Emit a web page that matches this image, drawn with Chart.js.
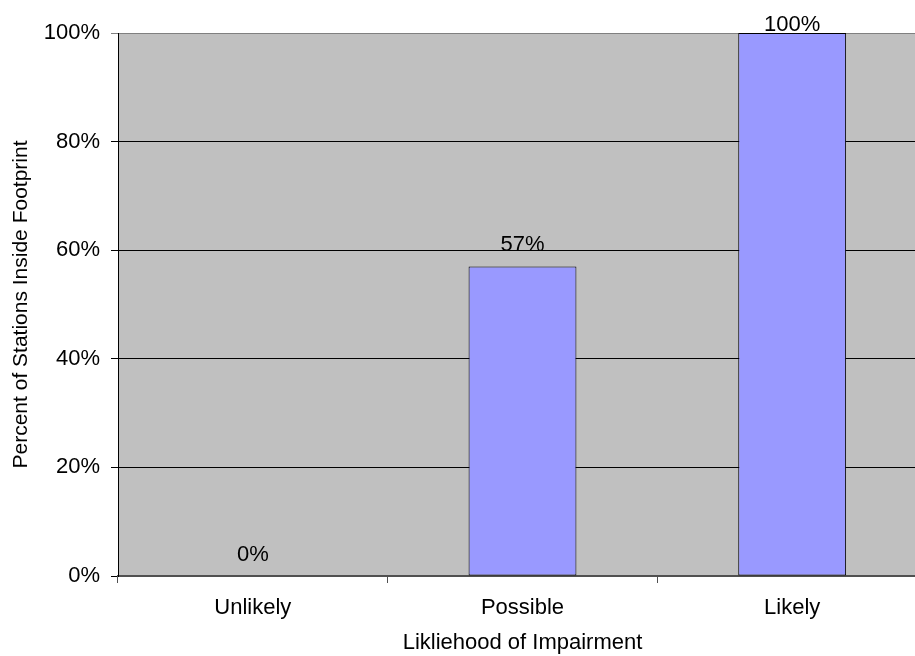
<!DOCTYPE html>
<html>
<head>
<meta charset="utf-8">
<script src="https://cdn.jsdelivr.net/npm/chart.js@4"></script>
<style>
  html, body { margin: 0; padding: 0; background: #fff; overflow: hidden; }
  #wrap { width: 927px; height: 656px; }
</style>
</head>
<body>
<div id="wrap"><canvas id="impairChart"></canvas></div>
<script>
const categories = ['Unlikely', 'Possible', 'Likely'];
const percentValues = [0, 57, 100];
const yTicks = [0, 20, 40, 60, 80, 100];

Chart.defaults.font.family = '"Liberation Sans", Arial, sans-serif';
Chart.defaults.color = '#000';

// gray plot area behind the bars
const plotBg = {
  id: 'plotBg',
  beforeDraw(chart) {
    const a = chart.chartArea;
    const c = chart.ctx;
    c.save();
    c.fillStyle = '#c0c0c0';
    c.fillRect(a.left, a.top, a.right - a.left, a.bottom - a.top);
    c.restore();
  }
};

// value labels above each bar (kept inside the canvas at the top)
const valueLabels = {
  id: 'valueLabels',
  afterDatasetsDraw(chart) {
    const c = chart.ctx;
    const meta = chart.getDatasetMeta(0);
    c.save();
    c.font = '22px "Liberation Sans", Arial, sans-serif';
    c.fillStyle = '#000';
    c.textAlign = 'center';
    c.textBaseline = 'alphabetic';
    meta.data.forEach((bar, i) => {
      const y = Math.max(bar.y - 15, 31);
      c.fillText(percentValues[i] + '%', bar.x, y);
    });
    c.restore();
  }
};

new Chart(document.getElementById('impairChart'), {
  type: 'bar',
  data: {
    labels: categories,
    datasets: [{
      data: percentValues,
      backgroundColor: '#9999ff',
      borderColor: '#000',
      borderWidth: 1,
      borderSkipped: false,
      categoryPercentage: 1,
      barPercentage: 0.40
    }]
  },
  plugins: [plotBg, valueLabels],
  options: {
    responsive: true,
    maintainAspectRatio: false,
    animation: false,
    layout: { padding: { top: 33, right: 0, left: 0, bottom: 0 } },
    plugins: {
      legend: { display: false },
      tooltip: { enabled: false }
    },
    scales: {
      x: {
        afterFit(scale) { scale.height = 80; },
        grid: {
          offset: true,
          drawOnChartArea: false,
          drawTicks: true,
          tickLength: 7,
          color: '#505050'
        },
        border: { color: '#505050', width: 2 },
        ticks: { font: { size: 22 }, padding: 12, color: '#000' },
        title: {
          display: true,
          text: 'Likliehood of Impairment',
          font: { size: 22 },
          padding: { top: 4, bottom: 0 }
        }
      },
      y: {
        min: 0,
        max: 100,
        afterFit(scale) { scale.width = 118; },
        afterBuildTicks(scale) { scale.ticks = yTicks.map(v => ({ value: v })); },
        grid: {
          color(ctx) {
            if (ctx.tick && ctx.tick.value === 100) return '#808080';
            return '#000';
          },
          drawTicks: true,
          tickLength: 7,
          lineWidth: 1
        },
        border: { color: '#000', width: 1 },
        ticks: {
          font: { size: 22 },
          padding: 11,
          color: '#000',
          callback: v => v + '%'
        },
        title: {
          display: true,
          text: 'Percent of Stations Inside Footprint',
          font: { size: 21 },
          padding: { top: 9, bottom: 4 }
        }
      }
    }
  }
});
</script>
</body>
</html>
